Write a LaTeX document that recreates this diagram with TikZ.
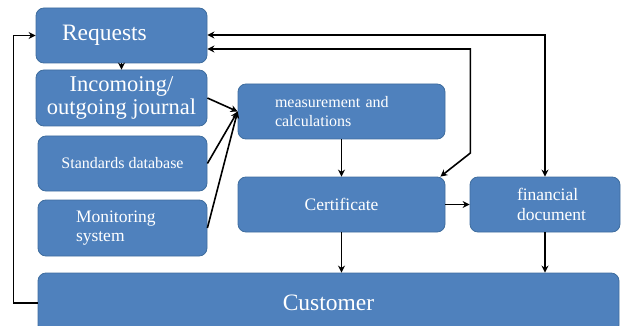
\documentclass[tikz,border=0pt]{standalone}
\usepackage{fontspec}
\setmainfont{Liberation Serif}
\usetikzlibrary{arrows.meta}
\definecolor{boxblue}{HTML}{4F81BD}
\definecolor{boxedge}{HTML}{3F6D9E}
\hfuzz=40pt

\begin{document}
\begin{tikzpicture}[x=1pt,y=-1pt,>={Stealth[length=7pt,width=7pt]}]
    \tikzstyle{box}=[rectangle,rounded corners=8pt,fill=boxblue,draw=boxedge,line width=0.8pt,text=white,inner sep=0pt,align=center]
    \tikzstyle{link}=[->,draw=black,line width=1.6pt]
    \useasboundingbox (0,0) rectangle (621,326);
    \clip (0,0) rectangle (621,326);

    % left column
    \node[box,minimum width=171pt,minimum height=55pt,text width=119pt,align=left,font=\fontsize{23.5}{26}\selectfont] (req) at (121.5,35.5) {Requests};
    \node[box,minimum width=171pt,minimum height=56pt,font=\fontsize{22.5}{23}\selectfont] (jour) at (121.5,98) {Incomoing/\\outgoing journal};
    \node[box,minimum width=169pt,minimum height=55pt,font=\fontsize{16}{19}\selectfont] (std) at (122.5,163.5) {Standards database};
    \node[box,minimum width=169pt,minimum height=56pt,text width=93pt,align=left,font=\fontsize{17.5}{19}\selectfont] (mon) at (122.5,228) {Monitoring\\system};

    % middle and right
    \node[box,minimum width=207pt,minimum height=55pt,text width=133pt,align=left,font=\fontsize{16}{19}\selectfont] (meas) at (341.5,111.5) {measurement and\\calculations};
    \node[box,minimum width=207pt,minimum height=55pt,font=\fontsize{17.5}{20}\selectfont] (cert) at (341.5,204.5) {Certificate};
    \node[box,minimum width=150pt,minimum height=55pt,text width=56pt,align=left,font=\fontsize{17.5}{20}\selectfont] (fin) at (545,204.5) {financial\\document};

    % bottom
    \node[box,minimum width=581pt,minimum height=60pt,font=\fontsize{23.5}{26}\selectfont] (cust) at (328.5,303) {Customer};

    % connectors
    \draw[link] (cust.west) -- ++(-24,0) |- (req.west);
    \draw[link] (req) -- (jour);
    \draw[link,<->] ([yshift=0.5pt]req.east) -| (fin.north);
    \draw[link,<->] ([yshift=-13.5pt]req.east) -- ++(263,0) -- ++(0,104) -- ([xshift=-5pt]cert.north east);
    \foreach \src in {jour,std,mon}
    \draw[link] (\src.east) -- (meas.west);
    \draw[link] (meas) -- (cert);
    \draw[link] (cert) -- (fin);
    \draw[link] (cert.south) -- (cert.south |- cust.north);
    \draw[link] (fin.south) -- (fin.south |- cust.north);
\end{tikzpicture}
\end{document}
